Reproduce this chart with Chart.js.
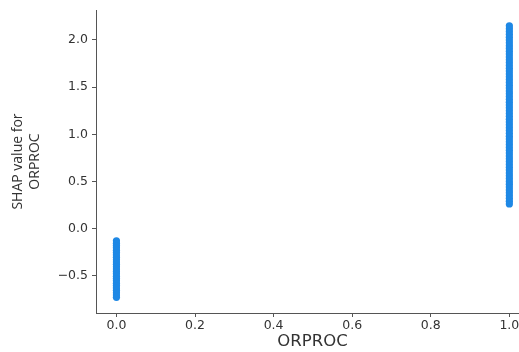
<!DOCTYPE html>
<html>
<head>
<meta charset="utf-8">
<script src="https://cdn.jsdelivr.net/npm/chart.js@4"></script>
<style>
  html, body { margin: 0; padding: 0; background: #fff; overflow: hidden; }
  /* the axes run past the right edge of the picture, as in the original figure */
  #wrap { width: 529px; height: 352px; }
</style>
</head>
<body>
<div id="wrap"><canvas id="shapChart" width="529" height="352"></canvas></div>
<script>
// feature value groups (ORPROC is binary)
const featureValues = [0, 1];
// SHAP values, per group (dense columns of dots)
const shapAtZero = [-0.13, -0.155, -0.18, -0.205, -0.23, -0.255, -0.28, -0.305, -0.33,
    -0.355, -0.38, -0.405, -0.43, -0.455, -0.48, -0.505, -0.53, -0.555, -0.58, -0.605,
    -0.63, -0.655, -0.68, -0.705, -0.73];
const shapAtOne = [0.26, 0.29, 0.32, 0.35, 0.38, 0.41, 0.44, 0.47, 0.5, 0.53, 0.56, 0.59,
    0.62, 0.65, 0.68, 0.71, 0.74, 0.77, 0.8, 0.83, 0.86, 0.89, 0.92, 0.95, 0.98, 1.01,
    1.04, 1.07, 1.1, 1.13, 1.16, 1.19, 1.22, 1.25, 1.28, 1.31, 1.34, 1.37, 1.4, 1.43,
    1.46, 1.49, 1.52, 1.55, 1.58, 1.61, 1.64, 1.67, 1.7, 1.73, 1.76, 1.79, 1.82, 1.85,
    1.88, 1.91, 1.94, 1.97, 2.0, 2.03, 2.06, 2.09, 2.12, 2.15];
const xTicks = [0.0, 0.2, 0.4, 0.6, 0.8, 1.0];
const yTicks = [-0.5, 0.0, 0.5, 1.0, 1.5, 2.0];

const points = [];
shapAtZero.forEach(v => points.push({ x: featureValues[0], y: v }));
shapAtOne.forEach(v => points.push({ x: featureValues[1], y: v }));

const axisColor = '#555555';
const textColor = '#333333';
const font = 'DejaVu Sans';

new Chart(document.getElementById('shapChart'), {
    type: 'scatter',
    data: {
        datasets: [{
            data: points,
            backgroundColor: '#1e88e5',
            borderWidth: 0,
            pointRadius: 3.6,
            pointHoverRadius: 3.6
        }]
    },
    options: {
        responsive: false,
        animation: false,
        layout: { autoPadding: false, padding: { top: 10, right: 0, left: 0, bottom: 0 } },
        plugins: { legend: { display: false }, tooltip: { enabled: false } },
        scales: {
            x: {
                type: 'linear',
                min: -0.052,
                max: 1.05,
                afterBuildTicks: s => { s.ticks = xTicks.map(v => ({ value: v })); },
                afterFit: s => { s.height = 39; s.paddingLeft = 0; s.paddingRight = 0; },
                grid: { drawOnChartArea: false, tickLength: 4, color: axisColor },
                border: { color: axisColor, width: 1 },
                ticks: {
                    color: textColor,
                    font: { family: font, size: 12.5 },
                    padding: 1,
                    maxRotation: 0,
                    callback: v => v.toFixed(1)
                },
                title: {
                    display: true,
                    text: 'ORPROC',
                    color: textColor,
                    font: { family: font, size: 16.5 },
                    padding: { top: 0, bottom: 0 }
                }
            },
            y: {
                type: 'linear',
                min: -0.896,
                max: 2.318,
                afterBuildTicks: s => { s.ticks = yTicks.map(v => ({ value: v })); },
                afterFit: s => { s.width = 96; s.paddingTop = 0; s.paddingBottom = 0; },
                grid: { drawOnChartArea: false, tickLength: 4, color: axisColor },
                border: { color: axisColor, width: 1 },
                ticks: {
                    color: textColor,
                    font: { family: font, size: 12.5 },
                    padding: 4,
                    callback: v => (v < 0 ? '\u2212' + Math.abs(v).toFixed(1) : v.toFixed(1))
                },
                title: {
                    display: true,
                    text: ['SHAP value for', 'ORPROC'],
                    color: textColor,
                    font: { family: 'Open Sans', size: 14 },
                    padding: { top: 10, bottom: 0 }
                }
            }
        }
    }
});
</script>
</body>
</html>
